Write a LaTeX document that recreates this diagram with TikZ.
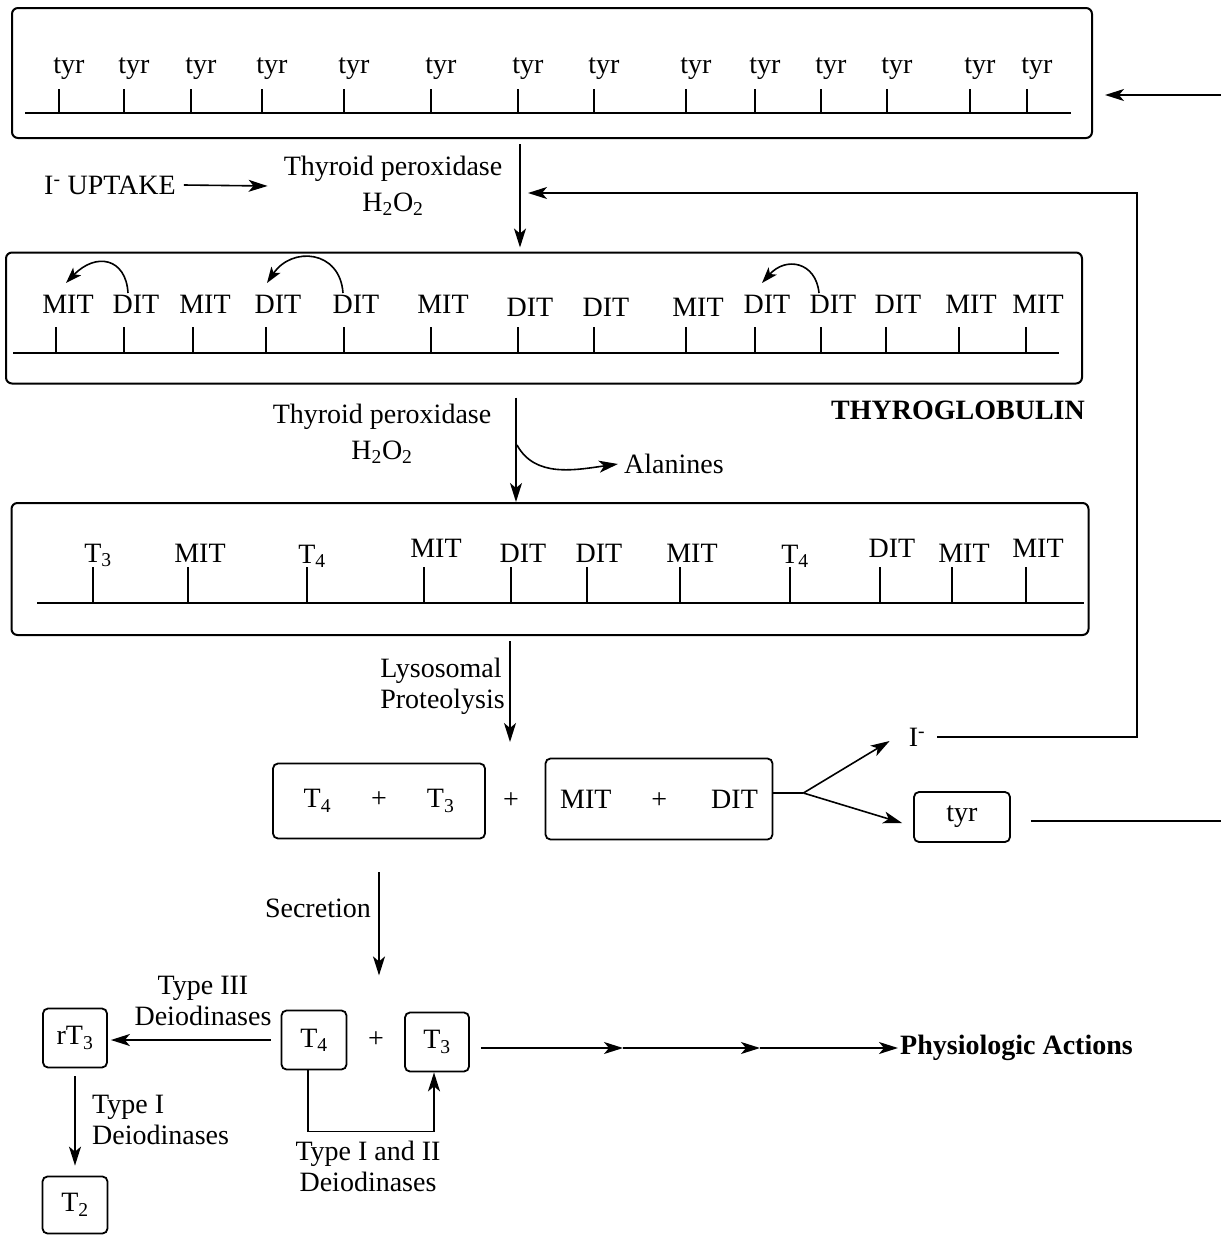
\documentclass[tikz,border=0pt]{standalone}
\usepackage{fontspec}
\setmainfont{Liberation Serif}
\usetikzlibrary{arrows.meta,positioning,calc}
\tikzset{
  chainbox/.style={draw,line width=2pt,rounded corners=6pt,inner sep=0pt},
  smallbox/.style={draw,line width=1.8pt,rounded corners=5pt,inner sep=0pt},
  arr/.style={-{Stealth[length=19pt,width=12pt,inset=5pt]},line width=1.6pt},
  curl/.style={-{Stealth[length=16pt,width=11pt,inset=4pt]},line width=1.6pt},
  ln/.style={line width=1.6pt},
}

\begin{document}
\begin{tikzpicture}[x=1pt,y=-1pt,font=\fontsize{28}{31}\selectfont,inner sep=2pt]
\useasboundingbox (0,0) rectangle (1221,1235);

% thyroglobulin with tyrosines
\node[chainbox,minimum width=1080pt,minimum height=130pt] (tgA) at (552,73) {};
\draw[ln] (25,113)--(1071,113);
\foreach \x [count=\i] in {59,124,191,262,344,431,518,594,686,755,821,887,970,1027}{
  \draw[ln] (\x,113)--(\x,89);
  \node[anchor=base] (tyr\i) at (\x+10,73) {tyr};
}
\draw[arr] (1221,95) -- ([xshift=12pt,yshift=-22pt]tgA.east);

% iodination
\node[anchor=west] (uptake) at (42,185) {I\textsuperscript{-} UPTAKE};
\node[align=center] (perox1) at (393,186) {Thyroid peroxidase\\[5pt]H\textsubscript{2}O\textsubscript{2}};
\draw[arr] ([xshift=6pt]uptake.east) -- ([xshift=-14pt]perox1.west);

\node[chainbox,minimum width=1076pt,minimum height=131pt] (tgB) at (544,318) {};
\draw[arr] ([xshift=-32pt,yshift=-5pt]tgA.south) coordinate (midA) -- ([yshift=4pt]midA |- tgB.north);
\draw[ln] (13,353)--(1059,353);
\foreach \x/\t/\y [count=\i] in {56/MIT/313,124/DIT/313,193/MIT/313,266/DIT/313,344/DIT/313,
    431/MIT/313,518/DIT/316,594/DIT/316,686/MIT/316,755/DIT/313,821/DIT/313,886/DIT/313,
    959/MIT/313,1026/MIT/313}{
  \draw[ln] (\x,353)--(\x,327);
  \node[anchor=base] (io\i) at (\x+12,\y) {\t};
}
% coupling
\draw[curl] (128,293) .. controls (126,258) and (96,252) .. (66,283);
\draw[curl] (343,293) .. controls (340,250) and (292,246) .. (267,283);
\draw[curl] (819,293) .. controls (816,262) and (786,256) .. (762,283);
\node[anchor=east,font=\fontsize{28}{31}\selectfont\bfseries] (tglob) at (1087,410) {THYROGLOBULIN};

\node[align=center] (perox2) at (382,434) {Thyroid peroxidase\\[5pt]H\textsubscript{2}O\textsubscript{2}};
\node[chainbox,minimum width=1077pt,minimum height=132pt] (tgC) at (550,569) {};
\draw[arr] ([xshift=-28pt,yshift=-13pt]tgB.south) coordinate (midB) -- (midB |- tgC.north);
\node[anchor=west] (alan) at (622,464) {Alanines};
\draw[arr] (517,445) .. controls (535,478) and (575,470) .. ([xshift=-4pt]alan.west);

% coupled chain
\draw[ln] (37,603)--(1084,603);
\foreach \x/\t/\y/\d [count=\i] in {93/T\textsubscript{3}/562/5,188/MIT/562/12,307/T\textsubscript{4}/563/5,
    424/MIT/557/12,511/DIT/562/12,587/DIT/562/12,680/MIT/562/12,790/T\textsubscript{4}/563/5,
    880/DIT/557/12,952/MIT/562/12,1026/MIT/557/12}{
  \draw[ln] (\x,603)--(\x,567);
  \node[anchor=base] (cp\i) at (\x+\d,\y) {\t};
}

% proteolysis
\draw[arr] ([xshift=-40pt,yshift=-5pt]tgC.south) coordinate (midC) -- ++(0,101) coordinate (lyso);
\node[anchor=east,align=left] (proteo) at (507,686) {Lysosomal\\Proteolysis};
\node[smallbox,minimum width=212pt,minimum height=75pt] (hb) at (379,801) {T\textsubscript{4}\hspace{40pt}+\hspace{40pt}T\textsubscript{3}};
\node (plus1) at (511,801) {+};
\node[smallbox,minimum width=227pt,minimum height=81pt] (md) at (659,799) {MIT\hspace{40pt}+\hspace{44pt}DIT};
\node (iodide) at (917,737) {I\textsuperscript{-}};
\node[smallbox,minimum width=96pt,minimum height=50pt] (tyrbox) at (962,817) {tyr};
\draw[ln] ([yshift=6pt]md.east) -- ++(30,0) coordinate (br);
\draw[arr] (br) -- ([xshift=-17pt,yshift=-4pt]iodide.west);
\draw[arr] (br) -- ([xshift=-11pt,yshift=-6pt]tyrbox.west);
\draw[arr] ([xshift=10pt]iodide.east) -| (1137,480) |- (528,193);
\draw[ln] ([xshift=20pt,yshift=-4pt]tyrbox.east) -- (1221,821);

% secretion and deiodination
\draw[arr] ([yshift=-33pt]hb.south) coordinate (secr) -- ++(0,103);
\node[anchor=east] (secrl) at (373,908) {Secretion};
\node[smallbox,minimum width=64pt,minimum height=59pt] (rT3) at (75,1038) {rT\textsubscript{3}};
\node[smallbox,minimum width=65pt,minimum height=59pt] (T4) at (314,1040) {T\textsubscript{4}};
\node[smallbox,minimum width=64pt,minimum height=59pt] (T3) at (437,1042) {T\textsubscript{3}};
\node[smallbox,minimum width=65pt,minimum height=57pt] (T2) at (75,1205) {T\textsubscript{2}};
\node (plus2) at (376,1040) {+};
\draw[arr] ([xshift=-10pt]T4.west) -- ([xshift=3pt]rT3.east |- T4.west);
\node[align=center] (d3) at (203,1001) {Type III\\Deiodinases};
\draw[arr] ([yshift=-8pt]rT3.south) -- ([yshift=10pt]T2.north);
\node[anchor=west,align=left] (d1) at (90,1120) {Type I\\Deiodinases};
\draw[arr] ([xshift=-6pt]T4.south) -- ++(0,61) -| ([xshift=-3pt]T3.south);
\node[align=center] (d12) at (368,1166) {Type I and II\\Deiodinases};
\node[anchor=west,font=\fontsize{28}{31}\selectfont\bfseries] (phys) at (898,1048) {Physiologic Actions};
\coordinate (p1) at (623,1048);
\coordinate (p2) at (760,1048);
\draw[arr] ([xshift=11pt,yshift=-6pt]T3.east) -- (p1);
\draw[arr] (p1) -- (p2);
\draw[arr] (p2) -- (phys.west);
\end{tikzpicture}
\end{document}
